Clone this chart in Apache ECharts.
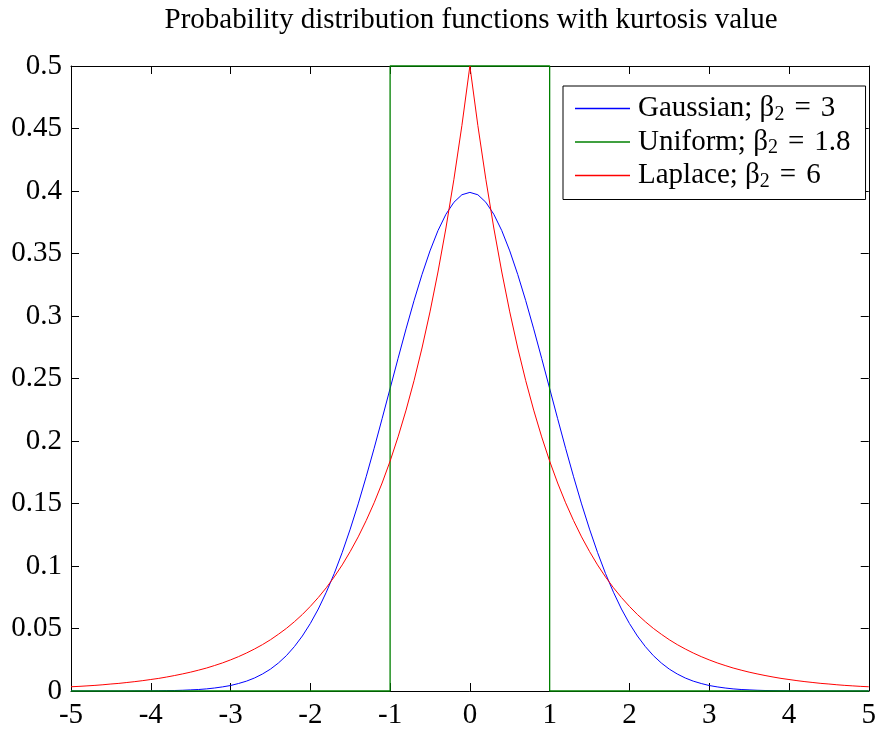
<!DOCTYPE html>
<html>
<head>
<meta charset="utf-8">
<script src="https://cdn.jsdelivr.net/npm/echarts@6/dist/echarts.min.js"></script>
<style>html,body{margin:0;padding:0;background:#fff}#c{width:879px;height:733px}</style>
</head>
<body>
<div id="c"></div>
<script>
var titleText = 'Probability distribution functions with kurtosis value';
var seriesNames = ['Gaussian', 'Uniform', 'Laplace'];
var seriesColors = ['#0000ff', '#008000', '#ff0000'];
var kurtosis = ['3', '1.8', '6'];
var xTickLabels = ['-5','-4','-3','-2','-1','0','1','2','3','4','5'];
var yTickLabels = ['0','0.05','0.1','0.15','0.2','0.25','0.3','0.35','0.4','0.45','0.5'];

var xValues = [-5,-4.9,-4.8,-4.7,-4.6,-4.5,-4.4,-4.3,-4.2,-4.1,-4,-3.9,-3.8,-3.7,-3.6,-3.5,-3.4,-3.3,-3.2,-3.1,-3,-2.9,-2.8,-2.7,-2.6,-2.5,-2.4,-2.3,-2.2,-2.1,-2,-1.9,-1.8,-1.7,-1.6,-1.5,-1.4,-1.3,-1.2,-1.1,-1,-0.9,-0.8,-0.7,-0.6,-0.5,-0.4,-0.3,-0.2,-0.1,0,0.1,0.2,0.3,0.4,0.5,0.6,0.7,0.8,0.9,1,1.1,1.2,1.3,1.4,1.5,1.6,1.7,1.8,1.9,2,2.1,2.2,2.3,2.4,2.5,2.6,2.7,2.8,2.9,3,3.1,3.2,3.3,3.4,3.5,3.6,3.7,3.8,3.9,4,4.1,4.2,4.3,4.4,4.5,4.6,4.7,4.8,4.9,5];

var gaussian = [0,0,0,0,0,0,0,0,0.0001,0.0001,0.0001,0.0002,0.0003,0.0004,0.0006,0.0009,0.0012,0.0017,0.0024,0.0033,0.0044,0.0060,0.0079,0.0104,0.0136,0.0175,0.0224,0.0283,0.0355,0.0440,0.0540,0.0656,0.0790,0.0940,0.1109,0.1295,0.1497,0.1714,0.1942,0.2179,0.2420,0.2661,0.2897,0.3123,0.3332,0.3521,0.3683,0.3814,0.3910,0.3970,0.3989,0.3970,0.3910,0.3814,0.3683,0.3521,0.3332,0.3123,0.2897,0.2661,0.2420,0.2179,0.1942,0.1714,0.1497,0.1295,0.1109,0.0940,0.0790,0.0656,0.0540,0.0440,0.0355,0.0283,0.0224,0.0175,0.0136,0.0104,0.0079,0.0060,0.0044,0.0033,0.0024,0.0017,0.0012,0.0009,0.0006,0.0004,0.0003,0.0002,0.0001,0.0001,0.0001,0,0,0,0,0,0,0,0];

var laplace = [0.0034,0.0037,0.0041,0.0045,0.0050,0.0056,0.0061,0.0068,0.0075,0.0083,0.0092,0.0101,0.0112,0.0124,0.0137,0.0151,0.0167,0.0184,0.0204,0.0225,0.0249,0.0275,0.0304,0.0336,0.0371,0.0410,0.0454,0.0501,0.0554,0.0612,0.0677,0.0748,0.0826,0.0913,0.1009,0.1116,0.1233,0.1363,0.1506,0.1664,0.1839,0.2033,0.2247,0.2483,0.2744,0.3033,0.3352,0.3704,0.4094,0.4524,0.5,0.4524,0.4094,0.3704,0.3352,0.3033,0.2744,0.2483,0.2247,0.2033,0.1839,0.1664,0.1506,0.1363,0.1233,0.1116,0.1009,0.0913,0.0826,0.0748,0.0677,0.0612,0.0554,0.0501,0.0454,0.0410,0.0371,0.0336,0.0304,0.0275,0.0249,0.0225,0.0204,0.0184,0.0167,0.0151,0.0137,0.0124,0.0112,0.0101,0.0092,0.0083,0.0075,0.0068,0.0061,0.0056,0.0050,0.0045,0.0041,0.0037,0.0034];

var uniformX = [-5,-1,-1,1,1,5];
var uniformY = [0,0,0.5,0.5,0,0];

function zip(xs, ys){ return xs.map(function(x,i){ return [x, ys[i]]; }); }

var FONT = '"Liberation Serif","Times New Roman",serif';
var chart = echarts.init(document.getElementById('c'), null, {renderer:'canvas'});

var axisCommon = {
  type:'value', min:-5, max:5, interval:1,
  axisLine:{show:true, onZero:false, lineStyle:{color:'#000', width:1}},
  axisTick:{show:true, inside:true, length:8, lineStyle:{color:'#000', width:1}},
  splitLine:{show:false}
};

chart.setOption({
  animation:false,
  backgroundColor:'#fff',
  title:{
    text:titleText, left:466, top:1, textAlign:'center',
    textStyle:{fontFamily:FONT, fontSize:29, fontWeight:'normal', color:'#000'}
  },
  grid:{left:71, right:8, top:66, bottom:42, containLabel:false},
  legend:{
    orient:'vertical', left:563, top:86,
    backgroundColor:'#fff', borderColor:'#000', borderWidth:1,
    padding:[8,15,8,12], itemGap:3, itemWidth:55, itemHeight:14,
    data:seriesNames.map(function(n, i){
      return {name:n, icon:'path://M0,6.6 L55,6.6 L55,8 L0,8 Z', itemStyle:{color:seriesColors[i]}};
    }),
    formatter:function(name){
      var i = seriesNames.indexOf(name);
      return '{t|' + name + '; β}{s|2}{e|=}{t|' + kurtosis[i] + '}';
    },
    textStyle:{
      fontFamily:FONT, fontSize:29, color:'#000', padding:[0,0,0,3],
      rich:{
        t:{fontFamily:FONT, fontSize:29, color:'#000', lineHeight:32},
        e:{fontFamily:FONT, fontSize:29, color:'#000', lineHeight:32, padding:[0,10,0,10]},
        s:{fontFamily:FONT, fontSize:20, color:'#000', lineHeight:32, verticalAlign:'bottom', padding:[10,0,0,0]}
      }
    }
  },
  xAxis:[
    Object.assign({}, axisCommon, {
      position:'bottom',
      axisLabel:{show:true, margin:10, fontFamily:FONT, fontSize:29, color:'#000',
        formatter:function(v){ return xTickLabels[Math.round(v+5)]; }}
    }),
    Object.assign({}, axisCommon, {position:'top', axisLabel:{show:false}})
  ],
  yAxis:[
    Object.assign({}, axisCommon, {
      min:0, max:0.5, interval:0.05, position:'left',
      axisLabel:{show:true, margin:9, fontFamily:FONT, fontSize:29, color:'#000',
        formatter:function(v){ return yTickLabels[Math.round(v/0.05)]; }}
    }),
    Object.assign({}, axisCommon, {min:0, max:0.5, interval:0.05, position:'right', axisLabel:{show:false}})
  ],
  series:[
    {name:seriesNames[0], type:'line', data:zip(xValues, gaussian), showSymbol:false, symbol:'none',
     lineStyle:{color:seriesColors[0], width:1}, itemStyle:{color:seriesColors[0]}, z:3},
    {name:seriesNames[1], type:'line', data:zip(uniformX, uniformY), showSymbol:false, symbol:'none', clip:false,
     lineStyle:{color:seriesColors[1], width:1.3}, itemStyle:{color:seriesColors[1]}, z:4},
    {name:seriesNames[2], type:'line', data:zip(xValues, laplace), showSymbol:false, symbol:'none',
     lineStyle:{color:seriesColors[2], width:1}, itemStyle:{color:seriesColors[2]}, z:5}
  ]
});
</script>
</body>
</html>
